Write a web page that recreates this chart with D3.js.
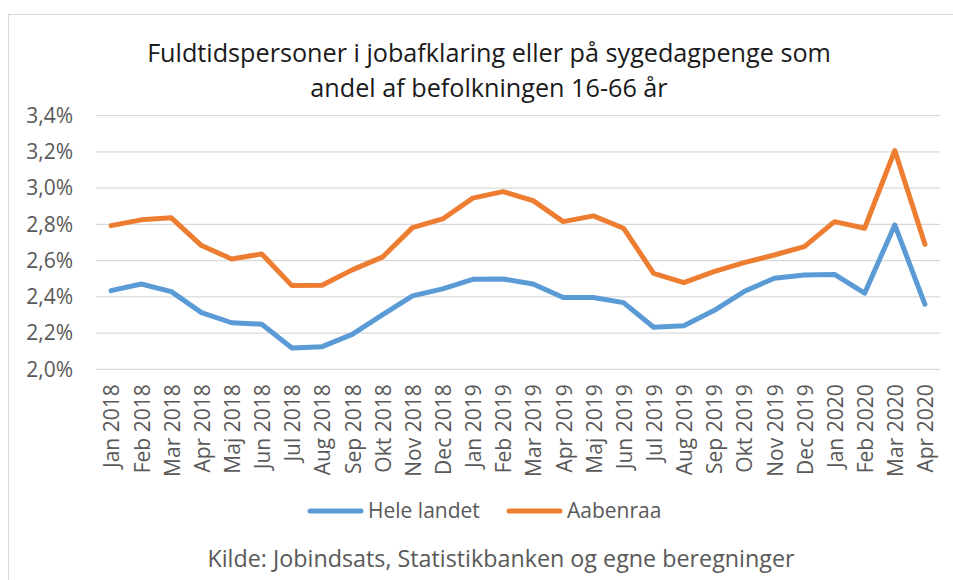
<!DOCTYPE html>
<html>
<head>
<meta charset="utf-8">
<script src="https://cdn.jsdelivr.net/npm/d3@7/dist/d3.min.js"></script>
<style>
html,body{margin:0;padding:0;background:#fff;}
svg{display:block;font-family:"Open Sans",sans-serif;}
</style>
</head>
<body>
<svg id="chart" width="953" height="580"></svg>
<script>
const categories = ["Jan 2018","Feb 2018","Mar 2018","Apr 2018","Maj 2018","Jun 2018","Jul 2018","Aug 2018","Sep 2018","Okt 2018","Nov 2018","Dec 2018",
  "Jan 2019","Feb 2019","Mar 2019","Apr 2019","Maj 2019","Jun 2019","Jul 2019","Aug 2019","Sep 2019","Okt 2019","Nov 2019","Dec 2019",
  "Jan 2020","Feb 2020","Mar 2020","Apr 2020"];
const heleLandet = [2.434,2.471,2.429,2.313,2.257,2.249,2.118,2.125,2.193,2.300,2.405,2.444,
  2.497,2.499,2.471,2.396,2.396,2.368,2.232,2.241,2.324,2.429,2.503,2.521,
  2.524,2.420,2.797,2.359];
const aabenraa = [2.793,2.825,2.836,2.683,2.609,2.637,2.462,2.464,2.549,2.619,2.782,2.830,
  2.945,2.981,2.931,2.815,2.847,2.779,2.530,2.478,2.539,2.589,2.631,2.677,
  2.815,2.779,3.208,2.690];
const yTicks = [2.0,2.2,2.4,2.6,2.8,3.0,3.2,3.4];
const seriesNames = ["Hele landet","Aabenraa"];
const colors = ["#5B9BD5","#ED7D31"];
const titleLines = ["Fuldtidspersoner i jobafklaring eller på sygedagpenge som","andel af befolkningen 16-66 år"];
const sourceText = "Kilde: Jobindsats, Statistikbanken og egne beregninger";

(function(){
const svg = d3.select("#chart");
const pLeft = 96, pRight = 940, pTop = 115.7, pBottom = 369.3;

// outer border
svg.append("rect").attr("x",8.5).attr("y",14.5).attr("width",960).attr("height",600)
  .attr("fill","none").attr("stroke","#d9d9d9").attr("stroke-width",1);

const x = d3.scaleBand().domain(categories).range([pLeft,pRight]).padding(0);
const y = d3.scaleLinear().domain([2.0,3.4]).range([pBottom,pTop]);

// gridlines
svg.append("g").selectAll("line").data(yTicks).join("line")
  .attr("x1",pLeft).attr("x2",pRight)
  .attr("y1",d=>y(d)).attr("y2",d=>y(d))
  .attr("stroke","#d9d9d9").attr("stroke-width",1.3);

// y axis
const yAxis = d3.axisLeft(y).tickValues(yTicks).tickSize(0).tickPadding(0)
  .tickFormat(d=>d.toFixed(1).replace(".",",")+"%");
const yg = svg.append("g").attr("transform","translate(73,0)").call(yAxis);
yg.select(".domain").remove();
yg.selectAll("text").attr("fill","#595959").style("font-size","21px")
  .style("font-family","'Open Sans',sans-serif");

// x axis
const xAxis = d3.axisBottom(x).tickSize(0).tickPadding(0);
const xg = svg.append("g").attr("transform",`translate(0,${pBottom})`).call(xAxis);
xg.select(".domain").remove();
xg.selectAll("text")
  .attr("fill","#595959").style("font-size","21px").style("font-family","'Open Sans',sans-serif")
  .attr("text-anchor","end")
  .attr("transform","translate(1,15) rotate(-90)")
  .attr("x",0).attr("y",0).attr("dy","0.35em");

// lines
const line = d3.line().x((d,i)=>x(categories[i])+x.bandwidth()/2).y(d=>y(d));
[heleLandet,aabenraa].forEach((s,k)=>{
  svg.append("path").datum(s).attr("d",line)
    .attr("fill","none").attr("stroke",colors[k]).attr("stroke-width",5)
    .attr("stroke-linejoin","round").attr("stroke-linecap","round");
});

// title
svg.append("g").selectAll("text").data(titleLines).join("text")
  .attr("x",489).attr("y",(d,i)=>62+i*35).attr("text-anchor","middle")
  .attr("fill","#1a1a1a").style("font-size","25.2px").text(d=>d);

// legend
const legendItems = [{x:308},{x:507}];
legendItems.forEach((it,k)=>{
  svg.append("line").attr("x1",it.x+2).attr("x2",it.x+53).attr("y1",511).attr("y2",511)
    .attr("stroke",colors[k]).attr("stroke-width",5).attr("stroke-linecap","round");
  svg.append("text").attr("x",it.x+60).attr("y",518).attr("fill","#595959")
    .style("font-size","21px").text(seriesNames[k]);
});

// source
svg.append("text").attr("x",501).attr("y",567).attr("text-anchor","middle")
  .attr("fill","#595959").style("font-size","23.3px").text(sourceText);
})();
</script>
</body>
</html>
